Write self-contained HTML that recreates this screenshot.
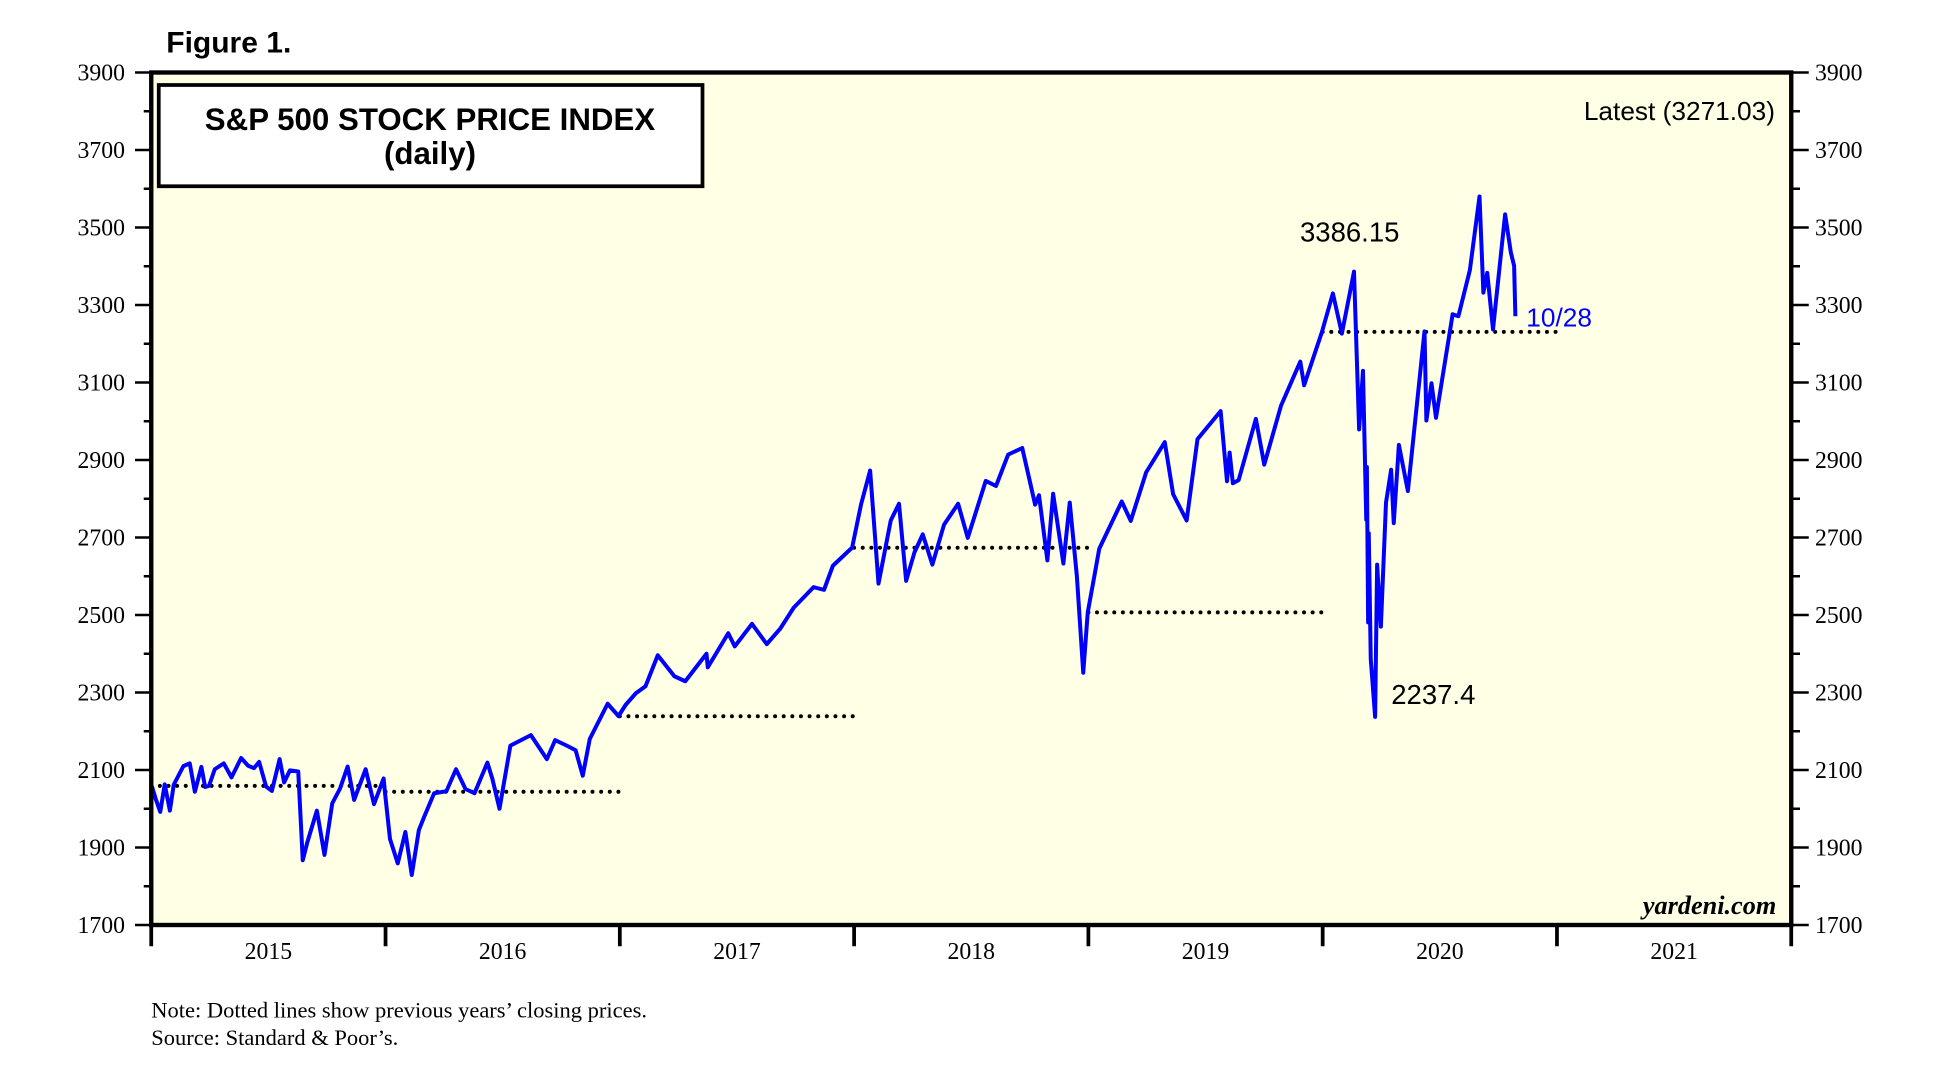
<!DOCTYPE html>
<html><head><meta charset="utf-8">
<style>
html,body{margin:0;padding:0;background:#fff;}
svg{display:block;}
</style></head>
<body>
<svg id="chart" width="1935" height="1069" viewBox="0 0 1548 855.2" preserveAspectRatio="none" xmlns="http://www.w3.org/2000/svg">
<rect x="0" y="0" width="1548" height="856" fill="#fff"/>
<text x="133" y="42" font-family="Liberation Sans, sans-serif" font-weight="bold" font-size="24">Figure 1.</text>
<rect x="121" y="58" width="1312" height="682" fill="#ffffe6"/>
<g id="axes"></g>
<g id="dots"></g>
<path id="line" fill="none" stroke="#0000ff" stroke-width="3.2" stroke-linejoin="round"/>
<rect x="121" y="58" width="1312" height="682" fill="none" stroke="#000" stroke-width="3.5"/>
<g>
<rect x="127" y="68" width="435" height="81" fill="#fff" stroke="#000" stroke-width="3"/>
<text x="344" y="104" text-anchor="middle" font-family="Liberation Sans, sans-serif" font-weight="bold" font-size="25">S&amp;P 500 STOCK PRICE INDEX</text>
<text x="344" y="131" text-anchor="middle" font-family="Liberation Sans, sans-serif" font-weight="bold" font-size="25">(daily)</text>
</g>
<text x="1420" y="96" text-anchor="end" font-family="Liberation Sans, sans-serif" font-size="21">Latest (3271.03)</text>
<text x="1040" y="193" font-family="Liberation Sans, sans-serif" font-size="22">3386.15</text>
<text x="1113" y="563" font-family="Liberation Sans, sans-serif" font-size="22">2237.4</text>
<text x="1221" y="261" fill="#0000ff" font-family="Liberation Sans, sans-serif" font-size="21">10/28</text>
<text x="1421" y="731" text-anchor="end" font-family="Liberation Serif, serif" font-style="italic" font-weight="bold" font-size="21">yardeni.com</text>
<text x="121" y="814" font-family="Liberation Serif, serif" font-size="18">Note: Dotted lines show previous years’ closing prices.</text>
<text x="121" y="836" font-family="Liberation Serif, serif" font-size="18">Source: Standard &amp; Poor’s.</text>
</svg>
<script>
const dates = ["2015-01-02","2015-01-08","2015-01-15","2015-01-22","2015-01-30","2015-02-05","2015-02-20","2015-03-02","2015-03-10","2015-03-20","2015-03-26","2015-04-01","2015-04-10","2015-04-24","2015-05-06","2015-05-21","2015-06-01","2015-06-10","2015-06-18","2015-06-29","2015-07-08","2015-07-20","2015-07-27","2015-08-05","2015-08-18","2015-08-25","2015-09-01","2015-09-16","2015-09-28","2015-10-10","2015-10-22","2015-11-03","2015-11-13","2015-12-01","2015-12-14","2015-12-29","2015-12-31",
"2016-01-08","2016-01-20","2016-02-01","2016-02-11","2016-02-22","2016-03-01","2016-03-17","2016-04-05","2016-04-20","2016-05-05","2016-05-19","2016-06-08","2016-06-16","2016-06-27","2016-07-14","2016-08-15","2016-09-09","2016-09-22","2016-10-10","2016-10-24","2016-11-04","2016-11-15","2016-12-13","2016-12-30",
"2017-01-10","2017-01-26","2017-02-10","2017-03-01","2017-03-27","2017-04-13","2017-05-16","2017-05-18","2017-06-19","2017-06-29","2017-07-26","2017-08-18","2017-09-08","2017-09-29","2017-10-30","2017-11-15","2017-11-29","2017-12-29",
"2018-01-12","2018-01-26","2018-02-08","2018-02-27","2018-03-12","2018-03-23","2018-04-05","2018-04-18","2018-05-03","2018-05-21","2018-06-12","2018-06-27","2018-07-25","2018-08-10","2018-08-29","2018-09-20","2018-10-10","2018-10-16","2018-10-29","2018-11-07","2018-11-23","2018-12-03","2018-12-14","2018-12-24","2018-12-31",
"2019-01-10","2019-01-18","2019-02-22","2019-03-08","2019-04-01","2019-04-30","2019-05-13","2019-06-03","2019-06-20","2019-07-26","2019-08-05","2019-08-09","2019-08-14","2019-08-23","2019-09-19","2019-10-02","2019-10-28","2019-11-27","2019-12-03","2019-12-31",
"2020-01-17","2020-01-31","2020-02-19","2020-02-27","2020-03-04","2020-03-09","2020-03-10","2020-03-12","2020-03-13","2020-03-16","2020-03-23","2020-03-26","2020-04-01","2020-04-09","2020-04-17","2020-04-21","2020-04-29","2020-05-13","2020-06-08","2020-06-11","2020-06-19","2020-06-26","2020-07-22","2020-07-31","2020-08-18","2020-09-02","2020-09-08","2020-09-14","2020-09-23","2020-10-12","2020-10-21","2020-10-26","2020-10-28"];
const closes = [2058,2025,1992,2063,1995,2062,2110,2117,2044,2108,2056,2059,2102,2117,2081,2131,2111,2105,2121,2057,2046,2128,2068,2099,2096,1867,1913,1995,1881,2014,2052,2109,2023,2102,2012,2078,2044,
1922,1859,1940,1829,1945,1978,2040,2045,2102,2051,2040,2119,2077,2000,2163,2190,2128,2177,2163,2151,2085,2180,2271,2239,
2268,2298,2316,2396,2342,2329,2400,2365,2453,2419,2477,2425,2465,2519,2572,2565,2627,2674,
2786,2873,2581,2744,2787,2588,2662,2708,2630,2733,2787,2699,2846,2833,2914,2931,2785,2809,2641,2813,2633,2790,2600,2351,2507,
2597,2671,2793,2743,2868,2946,2812,2744,2954,3026,2845,2919,2840,2848,3006,2888,3040,3154,3093,3231,
3330,3226,3386,2979,3130,2746,2882,2481,2711,2386,2237,2630,2470,2790,2875,2737,2939,2820,3232,3002,3098,3009,3276,3271,3390,3580,3332,3383,3237,3534,3435,3401,3271];
const yearLabels = ["2015","2016","2017","2018","2019","2020","2021"];
const yTicks = [1700,1900,2100,2300,2500,2700,2900,3100,3300,3500,3700,3900];
const prevCloseYears = [2015,2016,2017,2018,2019,2020];
const prevCloses = [2058.9,2043.94,2238.83,2673.61,2506.85,3230.78];

const NS="http://www.w3.org/2000/svg";
const X0=121,X1=1433,Y0=740,Y1=58,T0=2015,T1=2022,V0=1700,V1=3900;
function xs(t){return X0+(t-T0)/(T1-T0)*(X1-X0);}
function ys(v){return Y0-(v-V0)/(V1-V0)*(Y0-Y1);}
function dec(s){const d=new Date(s+"T00:00:00Z");const y=d.getUTCFullYear();const st=Date.UTC(y,0,1),en=Date.UTC(y+1,0,1);return y+(d-st)/(en-st);}
function mk(tag,attrs,parent){const e=document.createElementNS(NS,tag);for(const k in attrs)e.setAttribute(k,attrs[k]);parent.appendChild(e);return e;}
const axes=document.getElementById('axes');
for(let v=V0;v<=V1;v+=100){
  const y=ys(v),major=(v-V0)%200===0;
  const l=mk('line',{x1:major?108:115,x2:121,y1:y,y2:y,stroke:'#000','stroke-width':2},axes);
  
  
  const r=mk('line',{x1:1433,x2:major?1447:1440,y1:y,y2:y,stroke:'#000','stroke-width':2},axes);
  
  
}
yTicks.forEach(v=>{
  const y=ys(v)+6.5;
  const a=mk('text',{x:100,y:y,'text-anchor':'end','font-family':'Liberation Serif, serif','font-size':19},axes);a.textContent=v;
  
  
  const b=mk('text',{x:1452,y:y,'font-family':'Liberation Serif, serif','font-size':19},axes);b.textContent=v;
  
  
});
for(let t=T0;t<=T1;t++){
  const l=mk('line',{x1:xs(t),x2:xs(t),y1:740,y2:757,stroke:'#000','stroke-width':3},axes);
  
  
}
yearLabels.forEach((lab,i)=>{
  const t=mk('text',{x:xs(T0+i+0.5),y:767,'text-anchor':'middle','font-family':'Liberation Serif, serif','font-size':19},axes);t.textContent=lab;
  
  
});
const dots=document.getElementById('dots');
prevCloseYears.forEach((yr,i)=>{
  const y=ys(prevCloses[i]);
  const l=mk('line',{x1:xs(yr),x2:xs(yr+1),y1:y,y2:y,stroke:'#000','stroke-width':3.2,'stroke-dasharray':'0 6.9','stroke-linecap':'round'},dots);
  
  
});
let d="";
dates.forEach((s,i)=>{d+=(i?"L":"M")+xs(dec(s)).toFixed(1)+","+ys(closes[i]).toFixed(1);});
document.getElementById('line').setAttribute('d',d);
</script>
</body></html>
